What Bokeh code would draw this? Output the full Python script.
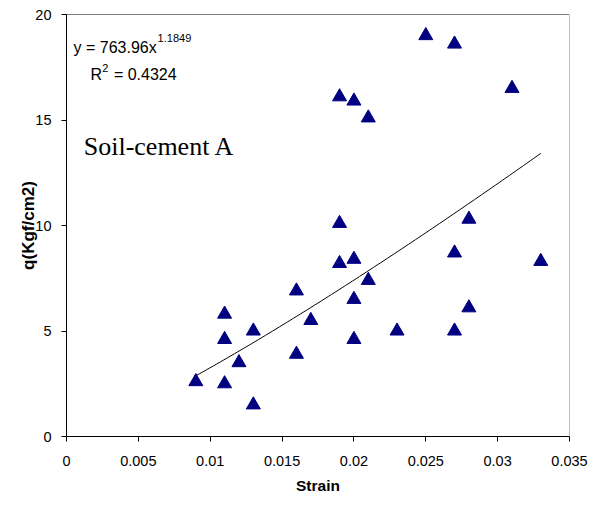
import numpy as np
from bokeh.plotting import figure
from bokeh.models import Range1d, FixedTicker, Label, Span
from bokeh.embed import file_html
from bokeh.resources import INLINE

# measured points (strain, unconfined strength)
strain = [0.009, 0.011, 0.011, 0.011, 0.012, 0.013, 0.013, 0.016, 0.016, 0.017,
          0.019, 0.019, 0.019, 0.020, 0.020, 0.020, 0.020, 0.021, 0.021, 0.023,
          0.025, 0.027, 0.027, 0.027, 0.028, 0.028, 0.031, 0.033]
q = [2.6, 5.8, 4.6, 2.5, 3.5, 5.0, 1.5, 6.9, 3.9, 5.5,
     16.1, 10.1, 8.2, 15.9, 8.4, 6.5, 4.6, 15.1, 7.4, 5.0,
     19.0, 18.6, 8.7, 5.0, 10.3, 6.1, 16.5, 8.3]

# power trendline as printed on the chart
fit_a = 763.96
fit_b = 1.1849
fit_r2 = 0.4324

x_ticks = [0, 0.005, 0.01, 0.015, 0.02, 0.025, 0.03, 0.035]
x_tick_labels = ["0", "0.005", "0.01", "0.015", "0.02", "0.025", "0.03", "0.035"]
y_ticks = [0, 5, 10, 15, 20]

p = figure(width=590, height=499, output_backend="svg", toolbar_location=None,
           x_range=Range1d(0, 0.035), y_range=Range1d(0, 20),
           min_border_left=66, min_border_right=21, min_border_top=14, min_border_bottom=63)

# trendline
fx = np.linspace(min(strain), max(strain), 100)
p.line(fx, fit_a * fx ** fit_b, line_color="black", line_width=1)

p.scatter(strain, q, marker="triangle", size=14, fill_color="#000080", line_color="#000080")

# axes styling
for ax in (p.xaxis, p.yaxis):
    ax.axis_line_color = "black"
    ax.major_tick_line_color = "black"
    ax.minor_tick_line_color = None
    ax.major_tick_in = 0
    ax.major_tick_out = 5
    ax.major_label_text_font = "Liberation Sans"
    ax.major_label_text_font_size = "14.5px"
    ax.major_label_text_color = "black"
    ax.axis_label_text_font = "Liberation Sans"
    ax.axis_label_text_font_style = "bold"
    ax.axis_label_text_color = "black"

p.xaxis.ticker = FixedTicker(ticks=x_ticks)
p.xaxis.major_label_overrides = dict(zip(x_ticks, x_tick_labels))
p.xaxis.major_label_standoff = 14
p.xaxis.axis_label = "Strain"
p.xaxis.axis_label_text_font_size = "15.5px"
p.xaxis.axis_label_standoff = 8

p.yaxis.ticker = FixedTicker(ticks=y_ticks)
p.yaxis.major_label_standoff = 10
p.yaxis.axis_label = "q(Kgf/cm2)"
p.yaxis.axis_label_text_font_size = "17px"
p.yaxis.axis_label_standoff = -6

p.xgrid.visible = False
p.ygrid.visible = False
p.outline_line_color = None
p.add_layout(Span(location=20, dimension="width", line_color="black", line_width=1))
p.add_layout(Span(location=0.035, dimension="height", line_color="#808080", line_width=1))

# equation and R^2 text
eq_font = dict(text_font="Liberation Sans", text_color="black", text_baseline="alphabetic")
p.add_layout(Label(x=0.00049, y=18.44, text="y = %.2fx" % fit_a, text_font_size="16px", **eq_font))
p.add_layout(Label(x=0.00634, y=18.89, text="%.4f" % fit_b, text_font_size="11px", **eq_font))
p.add_layout(Label(x=0.00167, y=17.16, text="R", text_font_size="16px", **eq_font))
p.add_layout(Label(x=0.00248, y=17.46, text="2", text_font_size="11px", **eq_font))
p.add_layout(Label(x=0.0033, y=17.16, text="= %.4f" % fit_r2, text_font_size="16px", **eq_font))

p.add_layout(Label(x=0.0012, y=13.74, text="Soil-cement A", text_font="Liberation Serif",
                   text_font_size="26px", text_color="black", text_baseline="alphabetic"))

open("out.html", "w").write(file_html(p, INLINE))
